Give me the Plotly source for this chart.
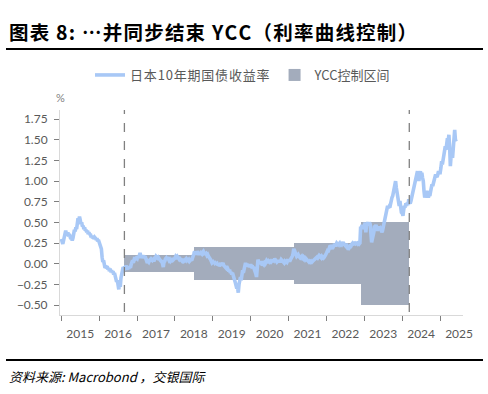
import pandas as pd
import plotly.graph_objects as go

# ---------------- data ----------------
# Japan 10Y JGB yield (%), weekly readings starting Jan 2 of each year
jgb_2015 = [0.30, 0.26, 0.24, 0.28, 0.33, 0.38, 0.40, 0.36, 0.35, 0.38, 0.33, 0.36, 0.32,
            0.30, 0.33, 0.28, 0.31, 0.36, 0.41, 0.39, 0.44, 0.42, 0.50, 0.55, 0.52, 0.57,
            0.53, 0.48, 0.50, 0.45, 0.46, 0.42, 0.44, 0.40, 0.41, 0.38, 0.40, 0.36, 0.38,
            0.35, 0.36, 0.32, 0.34, 0.31, 0.33, 0.30, 0.32, 0.31, 0.29, 0.31, 0.27, 0.29]
jgb_2016 = [0.26, 0.22, 0.21, 0.18, 0.08, 0.02, 0.04, -0.01, -0.05, -0.02, -0.06, -0.03, -0.07,
            -0.05, -0.09, -0.06, -0.10, -0.08, -0.11, -0.09, -0.13, -0.11, -0.15, -0.19, -0.22, -0.20,
            -0.28, -0.31, -0.24, -0.28, -0.17, -0.10, -0.07, -0.04, -0.08, -0.03, -0.06, -0.02, -0.05,
            -0.07, -0.04, -0.06, -0.03, -0.05, -0.01, 0.02, 0.04, 0.01, 0.05, 0.08, 0.06, 0.07]
jgb_2017 = [0.06, 0.09, 0.07, 0.10, 0.13, 0.09, 0.10, 0.07, 0.08, 0.10, 0.07, 0.09, 0.06,
            0.04, 0.01, 0.03, 0.02, 0.04, 0.05, 0.03, 0.05, 0.04, 0.05, 0.03, 0.06, 0.07,
            0.09, 0.08, 0.07, 0.08, 0.06, 0.05, 0.04, 0.03, 0.04, 0.00, -0.04, 0.02, 0.03,
            0.06, 0.07, 0.05, 0.08, 0.06, 0.04, 0.05, 0.03, 0.04, 0.05, 0.04, 0.05, 0.05]
jgb_2018 = [0.07, 0.09, 0.08, 0.09, 0.08, 0.07, 0.05, 0.06, 0.05, 0.04, 0.03, 0.04, 0.03,
            0.04, 0.05, 0.04, 0.06, 0.05, 0.04, 0.05, 0.03, 0.04, 0.05, 0.04, 0.06, 0.08,
            0.12, 0.15, 0.11, 0.14, 0.12, 0.15, 0.13, 0.11, 0.13, 0.11, 0.13, 0.12, 0.14,
            0.15, 0.13, 0.14, 0.11, 0.12, 0.10, 0.11, 0.09, 0.08, 0.06, 0.05, 0.03, 0.01]
jgb_2019 = [0.02, 0.00, 0.03, 0.01, 0.02, -0.01, 0.00, -0.02, 0.00, -0.03, -0.01, 0.01, -0.02,
            -0.01, 0.01, -0.02, -0.03, -0.04, -0.05, -0.03, -0.06, -0.07, -0.09, -0.07, -0.11, -0.10,
            -0.13, -0.11, -0.14, -0.16, -0.20, -0.23, -0.27, -0.30, -0.28, -0.35, -0.25, -0.19, -0.16,
            -0.20, -0.14, -0.08, -0.11, -0.06, -0.04, 0.01, -0.02, 0.00, -0.03, -0.01, -0.04, -0.02]
jgb_2020 = [-0.01, -0.03, -0.02, -0.05, -0.04, -0.07, -0.09, -0.12, -0.16, -0.08, 0.05, 0.02, 0.01,
            0.00, 0.03, 0.00, -0.02, 0.00, -0.01, 0.01, 0.00, 0.02, 0.04, 0.03, 0.01, 0.03,
            0.02, 0.03, 0.02, 0.03, 0.02, 0.05, 0.04, 0.06, 0.05, 0.04, 0.02, 0.03, 0.03,
            0.03, 0.04, 0.03, 0.05, 0.04, 0.03, 0.02, 0.01, 0.03, 0.02, 0.03, 0.02, 0.04]
jgb_2021 = [0.04, 0.05, 0.04, 0.06, 0.07, 0.09, 0.12, 0.18, 0.16, 0.12, 0.11, 0.09, 0.10,
            0.11, 0.09, 0.08, 0.10, 0.08, 0.09, 0.07, 0.08, 0.06, 0.07, 0.05, 0.06, 0.05,
            0.04, 0.03, 0.02, 0.03, 0.02, 0.03, 0.02, 0.03, 0.04, 0.04, 0.05, 0.06, 0.07,
            0.08, 0.07, 0.09, 0.10, 0.09, 0.08, 0.09, 0.07, 0.08, 0.07, 0.08, 0.09, 0.11]
jgb_2022 = [0.13, 0.15, 0.14, 0.17, 0.20, 0.22, 0.21, 0.19, 0.18, 0.20, 0.23, 0.24, 0.21,
            0.23, 0.25, 0.24, 0.23, 0.24, 0.25, 0.23, 0.24, 0.23, 0.25, 0.26, 0.24, 0.23,
            0.22, 0.24, 0.20, 0.18, 0.17, 0.19, 0.20, 0.23, 0.22, 0.24, 0.25, 0.24, 0.25,
            0.25, 0.24, 0.25, 0.25, 0.24, 0.25, 0.24, 0.25, 0.45, 0.43, 0.47, 0.42, 0.44]
jgb_2023 = [0.44, 0.50, 0.38, 0.47, 0.49, 0.50, 0.46, 0.50, 0.48, 0.35, 0.26, 0.30, 0.33,
            0.38, 0.46, 0.45, 0.47, 0.42, 0.40, 0.43, 0.45, 0.42, 0.43, 0.41, 0.38, 0.40,
            0.44, 0.47, 0.49, 0.58, 0.62, 0.66, 0.70, 0.67, 0.69, 0.68, 0.74, 0.77, 0.80,
            0.82, 0.86, 0.90, 0.95, 1.00, 0.92, 0.85, 0.78, 0.74, 0.70, 0.76, 0.66, 0.62]
jgb_2024 = [0.61, 0.58, 0.65, 0.70, 0.68, 0.73, 0.70, 0.74, 0.71, 0.78, 0.74, 0.73, 0.76,
            0.80, 0.87, 0.90, 0.93, 0.95, 1.00, 1.04, 1.08, 1.12, 1.06, 1.00, 1.08, 1.12,
            1.06, 1.10, 1.04, 1.00, 0.88, 0.80, 0.86, 0.84, 0.88, 0.84, 0.80, 0.84, 0.82,
            0.87, 0.92, 0.96, 0.94, 0.97, 0.99, 1.04, 1.08, 1.06, 1.05, 1.08, 1.12, 1.10]
jgb_2025 = [1.10, 1.16, 1.24, 1.20, 1.26, 1.30, 1.36, 1.42, 1.38, 1.50, 1.52, 1.48, 1.56,
            1.42, 1.18, 1.30, 1.34, 1.28, 1.38, 1.46, 1.62, 1.50, 1.48]
jgb_years = [2015, 2016, 2017, 2018, 2019, 2020, 2021, 2022, 2023, 2024, 2025]

# YCC control band: regime start/end dates and half-width (%)
ycc_start = ["2016-09-01", "2018-07-02", "2021-02-24", "2022-11-26"]
ycc_end = ["2018-07-02", "2021-02-24", "2022-11-26", "2024-03-10"]
ycc_half = [0.10, 0.20, 0.25, 0.50]

# vertical markers: YCC introduction and end
ycc_marks = ["2016-09-01", "2024-03-10"]

yticks = [-0.5, -0.25, 0.0, 0.25, 0.5, 0.75, 1.0, 1.25, 1.5, 1.75]

title_text = "图表 8: …并同步结束 YCC（利率曲线控制）"
source_text = "资料来源: Macrobond ，交银国际"
name_line = "日本10年期国债收益率"
name_band = "YCC控制区间"

# ---------------- build ----------------
HS = "\u200a"  # hair space for letter spacing


def spaced(t):
    return HS.join(list(t))


series = [jgb_2015, jgb_2016, jgb_2017, jgb_2018, jgb_2019, jgb_2020,
          jgb_2021, jgb_2022, jgb_2023, jgb_2024, jgb_2025]
dates, vals = [], []
for yr, s in zip(jgb_years, series):
    d = pd.date_range(start=f"{yr}-01-02", periods=len(s), freq="7D")
    dates.extend(d)
    vals.extend(s)

s_ts = pd.to_datetime(ycc_start)
e_ts = pd.to_datetime(ycc_end)
mid = [a + (b - a) / 2 for a, b in zip(s_ts, e_ts)]
wid = [(b - a).total_seconds() * 1000 for a, b in zip(s_ts, e_ts)]

fig = go.Figure()
fig.add_trace(go.Bar(
    x=mid, y=[2 * h for h in ycc_half], base=[-h for h in ycc_half], width=wid,
    marker=dict(color="#a3acbc", line=dict(width=0)),
    name=name_band, legendrank=2,
))
fig.add_trace(go.Scatter(
    x=dates, y=vals, mode="lines",
    line=dict(color="#a8c8f6", width=3.6),
    name=spaced(name_line), legendrank=1,
))

L, R, T, B = 60, 25, 110, 79
W, H = 488, 394
pw, ph = W - L - R, H - T - B


def px(x):
    return (x - L) / pw


def py(y):
    return (H - B - y) / ph


shapes = []
for m in ycc_marks:
    shapes.append(dict(type="line", xref="x", yref="paper", x0=m, x1=m, y0=0.015, y1=1,
                       line=dict(color="#808080", width=1.3, dash="dash"), layer="above"))
shapes.append(dict(type="line", xref="paper", yref="paper", x0=px(6), x1=px(483),
                   y0=py(49), y1=py(49), line=dict(color="#000000", width=2)))
shapes.append(dict(type="line", xref="paper", yref="paper", x0=px(6), x1=px(483),
                   y0=py(360), y1=py(360), line=dict(color="#000000", width=2)))

annotations = [
    dict(text="<b>" + spaced(title_text) + "</b>", xref="paper", yref="paper",
         x=px(7), y=py(31), xanchor="left", yanchor="middle", showarrow=False,
         font=dict(family="Noto Sans CJK SC", size=19.5, color="#000000")),
    dict(text=source_text, xref="paper", yref="paper",
         x=px(7), y=py(376), xanchor="left", yanchor="middle", showarrow=False,
         font=dict(family="Noto Sans CJK SC", size=13, color="#000000", style="italic")),
    dict(text="%", xref="paper", yref="paper", x=px(60), y=py(98),
         xanchor="center", yanchor="middle", showarrow=False,
         font=dict(family="Lato", size=11, color="#7f7f7f")),
]

fig.update_layout(
    width=W, height=H,
    margin=dict(l=L, r=R, t=T, b=B, autoexpand=False),
    paper_bgcolor="white", plot_bgcolor="white",
    barmode="overlay", bargap=0,
    showlegend=True,
    legend=dict(orientation="h", xref="container", yref="container",
                x=243 / W, xanchor="center", y=1 - 75 / H, yanchor="middle",
                font=dict(family="Noto Sans CJK SC", size=13, color="#595959"),
                itemwidth=30, tracegroupgap=0, bgcolor="rgba(0,0,0,0)"),
    shapes=shapes,
    annotations=annotations,
    xaxis=dict(type="date", range=["2014-12-20", "2025-08-10"],
               tick0="2015-01-01", dtick="M12", tickformat="%Y", ticklabelmode="period",
               ticks="outside", ticklen=5, tickcolor="#7f7f7f", tickwidth=1,
               ticklabelstandoff=3,
               showline=True, linecolor="#d9d9d9", linewidth=1,
               showgrid=False, zeroline=False, automargin=False,
               tickfont=dict(family="Lato", size=12, color="#595959")),
    yaxis=dict(range=[-0.62, 1.86], tickvals=yticks, tickformat=".2f",
               ticks="outside", ticklen=5, tickcolor="#7f7f7f", tickwidth=1,
               ticklabelstandoff=4,
               showline=True, linecolor="#d9d9d9", linewidth=1,
               showgrid=False, zeroline=False, automargin=False,
               tickfont=dict(family="Lato", size=12, color="#595959")),
)

fig.write_html("out.html", config={"displayModeBar": False},
               post_script="document.body.style.margin='0';")
